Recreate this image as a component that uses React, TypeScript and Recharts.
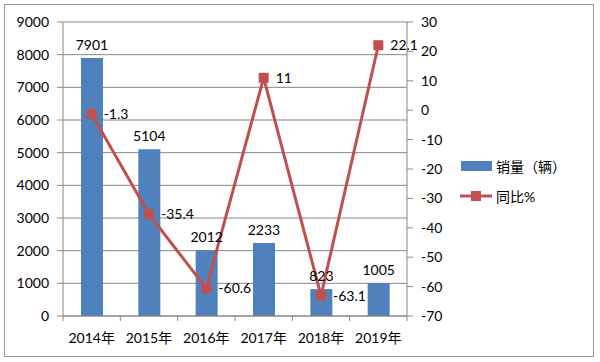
import {
  ComposedChart,
  Bar,
  Line,
  XAxis,
  YAxis,
  CartesianGrid,
  LabelList,
} from "recharts";

const years = ["2014年", "2015年", "2016年", "2017年", "2018年", "2019年"];
const sales = [7901, 5104, 2012, 2233, 823, 1005];
const yoy = [-1.3, -35.4, -60.6, 11, -63.1, 22.1];
const leftTicks = [0, 1000, 2000, 3000, 4000, 5000, 6000, 7000, 8000, 9000];
const rightTicks = [-70, -60, -50, -40, -30, -20, -10, 0, 10, 20, 30];

const BAR = "#4F81BD";
const LINE = "#C0504D";
const AXIS = "#868686";
const FONT = "Lato, 'Noto Sans CJK SC', sans-serif";

const data = years.map((y, i) => ({ year: y, sales: sales[i], yoy: yoy[i] }));

// plot width / category count, used to put x ticks on category boundaries
const BAND = 344 / years.length;

const YearTick = (props: any) => {
  const { x, y, payload, index } = props;
  const top = 316;
  return (
    <g>
      <line x1={x - BAND / 2} y1={top} x2={x - BAND / 2} y2={top + 5} stroke={AXIS} />
      {index === years.length - 1 && (
        <line x1={x + BAND / 2} y1={top} x2={x + BAND / 2} y2={top + 5} stroke={AXIS} />
      )}
      <text x={x} y={y} dy={11} textAnchor="middle" fill="#000" fontSize={14} fontFamily={FONT}>
        {payload.value}
      </text>
    </g>
  );
};

const Square = (props: any) => {
  const { cx, cy } = props;
  if (cx == null || cy == null) return null;
  return <rect x={cx - 5} y={cy - 5} width={10} height={10} fill={LINE} />;
};

const LegendBox = () => (
  <div
    style={{
      position: "absolute",
      left: 460,
      top: 156,
      fontFamily: FONT,
      fontSize: 14,
      color: "#000",
    }}
  >
    <div style={{ display: "flex", alignItems: "center", height: 20 }}>
      <svg width={36} height={20}>
        <rect x={1} y={5} width={31} height={10} fill={BAR} />
      </svg>
      <span>销量（辆）</span>
    </div>
    <div style={{ display: "flex", alignItems: "center", height: 20, marginTop: 10 }}>
      <svg width={36} height={20}>
        <line x1={0} y1={10} x2={32} y2={10} stroke={LINE} strokeWidth={3} />
        <rect x={11} y={5} width={10} height={10} fill={LINE} />
      </svg>
      <span>同比%</span>
    </div>
  </div>
);

export default function App() {
  return (
    <div style={{ position: "absolute", left: 0, top: 0, width: 600, height: 362 }}>
      <div
        style={{
          position: "absolute",
          left: 4,
          top: 4,
          width: 590,
          height: 353,
          border: "1px solid #9a9a9a",
          boxSizing: "border-box",
        }}
      />
      <ComposedChart
        width={600}
        height={362}
        data={data}
        margin={{ top: 22, right: 153, left: 8, bottom: 16 }}
      >
        <CartesianGrid vertical={false} stroke={AXIS} yAxisId="left" />
        <XAxis
          dataKey="year"
          axisLine={{ stroke: AXIS }}
          tickLine={false}
          tick={<YearTick />}
          tickMargin={10}
          height={30}
          interval={0}
        />
        <YAxis
          yAxisId="left"
          domain={[0, 9000]}
          ticks={leftTicks}
          width={55}
          axisLine={{ stroke: AXIS }}
          tickLine={{ stroke: AXIS }}
          tickSize={6}
          tickMargin={8}
          tick={{ fill: "#000", fontSize: 14, fontFamily: FONT }}
        />
        <YAxis
          yAxisId="right"
          orientation="right"
          domain={[-70, 30]}
          ticks={rightTicks}
          width={40}
          axisLine={{ stroke: AXIS }}
          tickLine={{ stroke: AXIS }}
          tickSize={6}
          tickMargin={8}
          tick={{ fill: "#000", fontSize: 14, fontFamily: FONT }}
        />
        <Bar yAxisId="left" dataKey="sales" fill={BAR} barSize={22} isAnimationActive={false}>
          <LabelList
            dataKey="sales"
            position="top"
            offset={8}
            fill="#000"
            fontSize={14}
            fontFamily={FONT}
          />
        </Bar>
        <Line
          yAxisId="right"
          dataKey="yoy"
          stroke={LINE}
          strokeWidth={3}
          dot={<Square />}
          activeDot={false}
          isAnimationActive={false}
        >
          <LabelList
            dataKey="yoy"
            position="right"
            offset={12}
            fill="#000"
            fontSize={14}
            fontFamily={FONT}
          />
        </Line>
      </ComposedChart>
      <LegendBox />
    </div>
  );
}
